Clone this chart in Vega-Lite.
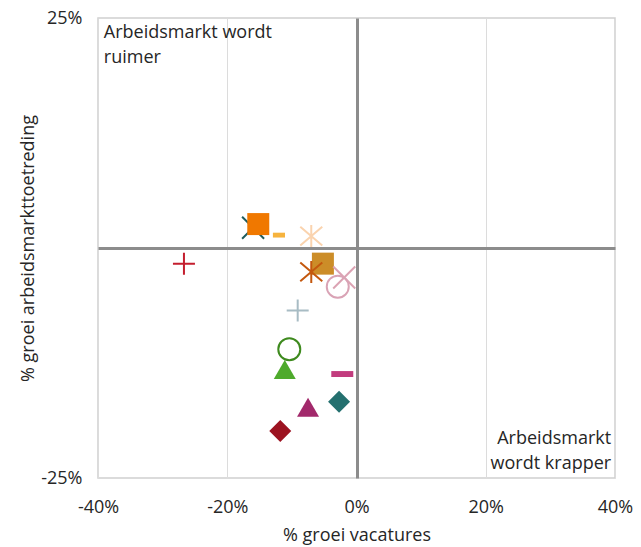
{
  "$schema": "https://vega.github.io/schema/vega-lite/v6.json",
  "width": 517,
  "height": 460,
  "autosize": {"type": "none"},
  "padding": {"left": 98, "top": 18, "right": 26, "bottom": 69},
  "background": "white",
  "config": {
    "font": "Open Sans",
    "view": {"stroke": "#D0D0D0", "strokeWidth": 1.5},
    "axis": {"labelFont": "Open Sans", "titleFont": "Open Sans", "labelColor": "#262626", "titleColor": "#262626", "labelFontSize": 18, "titleFontSize": 18, "titleFontWeight": "normal", "ticks": false, "domain": false, "labelFlush": false}
  },
  "data": {"values": [
    {"reeks": "r1", "x": -16.0, "y": 2.2},
    {"reeks": "r2", "x": -15.2, "y": 2.6},
    {"reeks": "r3", "x": -12.0, "y": 1.4},
    {"reeks": "r4", "x": -7.0, "y": 1.3},
    {"reeks": "r5", "x": -26.7, "y": -1.7},
    {"reeks": "r6", "x": -5.2, "y": -1.7},
    {"reeks": "r7", "x": -7.0, "y": -2.6},
    {"reeks": "r8", "x": -1.9, "y": -3.2},
    {"reeks": "r9", "x": -2.9, "y": -4.2},
    {"reeks": "r10", "x": -9.1, "y": -6.8},
    {"reeks": "r11", "x": -10.4, "y": -11.0},
    {"reeks": "r12", "x": -11.1, "y": -13.2},
    {"reeks": "r13", "x": -2.2, "y": -13.7},
    {"reeks": "r14", "x": -2.7, "y": -16.7},
    {"reeks": "r15", "x": -7.5, "y": -17.3},
    {"reeks": "r16", "x": -11.8, "y": -19.9}
  ]},
  "layer": [
    {
      "mark": {"type": "point", "size": 484, "strokeWidth": 2, "opacity": 1, "strokeCap": "butt"},
      "encoding": {
        "x": {"field": "x", "type": "quantitative", "scale": {"domain": [-40, 40], "nice": false, "zero": false},
          "axis": {"values": [-40, -20, 0, 20, 40], "labelExpr": "datum.value + '%'", "title": "% groei vacatures", "labelPadding": 20, "titlePadding": 10,
            "grid": true,
            "gridColor": {"condition": {"test": "datum.value === 0", "value": "#8C8C8C"}, "value": "#DCDCDC"},
            "gridWidth": {"condition": {"test": "datum.value === 0", "value": 3}, "value": 1}}},
        "y": {"field": "y", "type": "quantitative", "scale": {"domain": [-25, 25], "nice": false, "zero": false},
          "axis": {"values": [-25, 0, 25], "labelExpr": "datum.value === 0 ? '' : datum.value + '%'", "title": "% groei arbeidsmarkttoetreding", "labelPadding": 16, "titlePadding": 3,
            "grid": true,
            "gridColor": {"condition": {"test": "datum.value === 0", "value": "#8C8C8C"}, "value": "transparent"},
            "gridWidth": {"condition": {"test": "datum.value === 0", "value": 3}, "value": 1}}},
        "shape": {"field": "reeks", "type": "nominal", "legend": null, "scale": {
          "domain": ["r1","r2","r3","r4","r5","r6","r7","r8","r9","r10","r11","r12","r13","r14","r15","r16"],
          "range": [
            "M-1,-1L1,1M-1,1L1,-1",
            "square",
            "M-0.55,-0.22H0.55V0.22H-0.55Z",
            "M-1,-0.85L1,0.85M-1,0.85L1,-0.85M0,-1V1",
            "M-1,0H1M0,-1V1",
            "square",
            "M-1,-0.85L1,0.85M-1,0.85L1,-0.85M0,-1V1",
            "M-1,-1L1,1M-1,1L1,-1",
            "circle",
            "M-1,0H1M0,-1V1",
            "circle",
            "triangle-up",
            "M-1,-0.27H1V0.27H-1Z",
            "diamond",
            "triangle-up",
            "diamond"
          ]}},
        "fill": {"field": "reeks", "type": "nominal", "legend": null, "scale": {
          "domain": ["r1","r2","r3","r4","r5","r6","r7","r8","r9","r10","r11","r12","r13","r14","r15","r16"],
          "range": ["transparent","#F07800","#F6B33E","transparent","transparent","#CC8D28","transparent","transparent","transparent","transparent","transparent","#4EAA2C","#C23C7E","#24706F","#A2296B","#9C1321"]}},
        "stroke": {"field": "reeks", "type": "nominal", "legend": null, "scale": {
          "domain": ["r1","r2","r3","r4","r5","r6","r7","r8","r9","r10","r11","r12","r13","r14","r15","r16"],
          "range": ["#1F5C5C","transparent","transparent","#FAD3AE","#C41E2E","transparent","#C4580E","#DBA3B3","#D9A3B5","#A8BCC4","#3E8A1E","transparent","transparent","transparent","transparent","transparent"]}}
      }
    },
    {
      "data": {"values": [{"tekst": "ruimer"}]},
      "mark": {"type": "text", "align": "left", "baseline": "top", "fontSize": 18, "lineHeight": 25, "color": "#262626", "font": "Open Sans"},
      "encoding": {"x": {"datum": -39.1}, "y": {"datum": 24.4}, "text": {"value": ["Arbeidsmarkt wordt", "ruimer"]}}
    },
    {
      "data": {"values": [{"tekst": "krapper"}]},
      "mark": {"type": "text", "align": "right", "baseline": "top", "fontSize": 18, "lineHeight": 25, "color": "#262626", "font": "Open Sans"},
      "encoding": {"x": {"datum": 39.4}, "y": {"datum": -19.8}, "text": {"value": ["Arbeidsmarkt", "wordt krapper"]}}
    }
  ]
}
